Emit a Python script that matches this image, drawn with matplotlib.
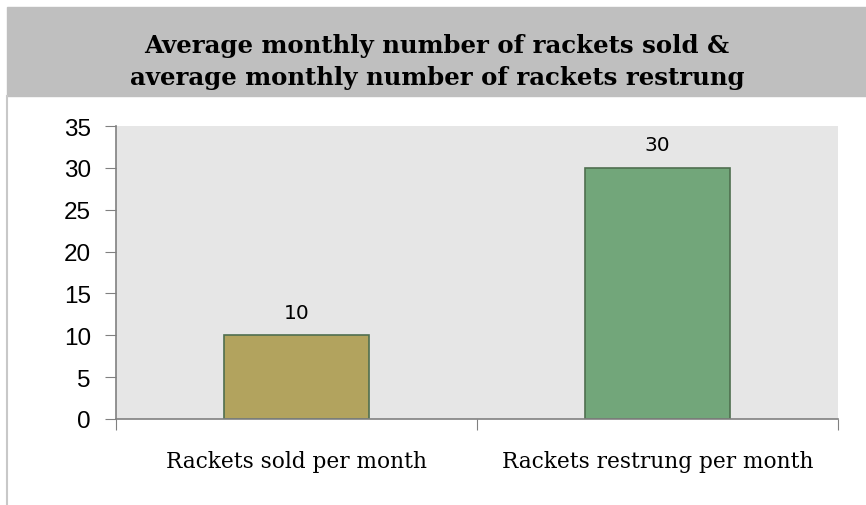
import matplotlib.pyplot as plt
from matplotlib.patches import Rectangle
from matplotlib.lines import Line2D

categories = ["Rackets sold per month", "Rackets restrung per month"]
values = [10, 30]
bar_colors = ["#b2a35e", "#72a67a"]
title = "Average monthly number of rackets sold &\naverage monthly number of rackets restrung"

W, H = 866, 506
fig = plt.figure(figsize=(W / 100, H / 100), dpi=100)

# title band and left border
fig.patches.append(Rectangle((7 / W, 1 - 97 / H), 1 - 7 / W, 89 / H,
                             transform=fig.transFigure, color="#bfbfbf", zorder=0))
fig.lines.append(Line2D([7 / W, 7 / W], [0, 1 - 97 / H], transform=fig.transFigure,
                        color="#c8c8c8", lw=1.5))
fig.text(437 / W, 1 - 62 / H, title, ha="center", va="center", fontsize=17.6,
         fontweight="bold", family="DejaVu Serif", linespacing=1.45)

ax = fig.add_axes([116 / W, 1 - 420 / H, (838 - 116) / W, (420 - 127) / H])
ax.set_facecolor("#e6e6e6")
x = list(range(len(categories)))
bars = ax.bar(x, values, width=0.40, color=bar_colors, edgecolor="#4f6f4f", linewidth=1.2)
for b, v in zip(bars, values):
    ax.text(b.get_x() + b.get_width() / 2, v + 1.6, str(v), ha="center", va="bottom",
            fontsize=14.5, family="DejaVu Sans")

ax.set_xlim(-0.5, 1.5)
ax.set_ylim(0, 35)
ax.set_yticks(range(0, 36, 5))
ax.set_xticks([-0.5, 0.5, 1.5], minor=False)
ax.set_xticklabels([])
ax.set_xticks(x, minor=True)
ax.set_xticklabels(categories, minor=True, family="DejaVu Serif", fontsize=15.6)
ax.tick_params(axis="x", which="major", length=8, color="#808080", direction="out")
ax.tick_params(axis="x", which="minor", length=0, pad=22)
ax.tick_params(axis="y", length=8, color="#808080", labelsize=17.5, pad=10)
for lbl in ax.get_yticklabels():
    lbl.set_family("Liberation Sans")
for s in ["top", "right"]:
    ax.spines[s].set_visible(False)
for s in ["left", "bottom"]:
    ax.spines[s].set_color("#808080")
    ax.spines[s].set_linewidth(1.2)

fig.savefig("out.png", dpi=100)
